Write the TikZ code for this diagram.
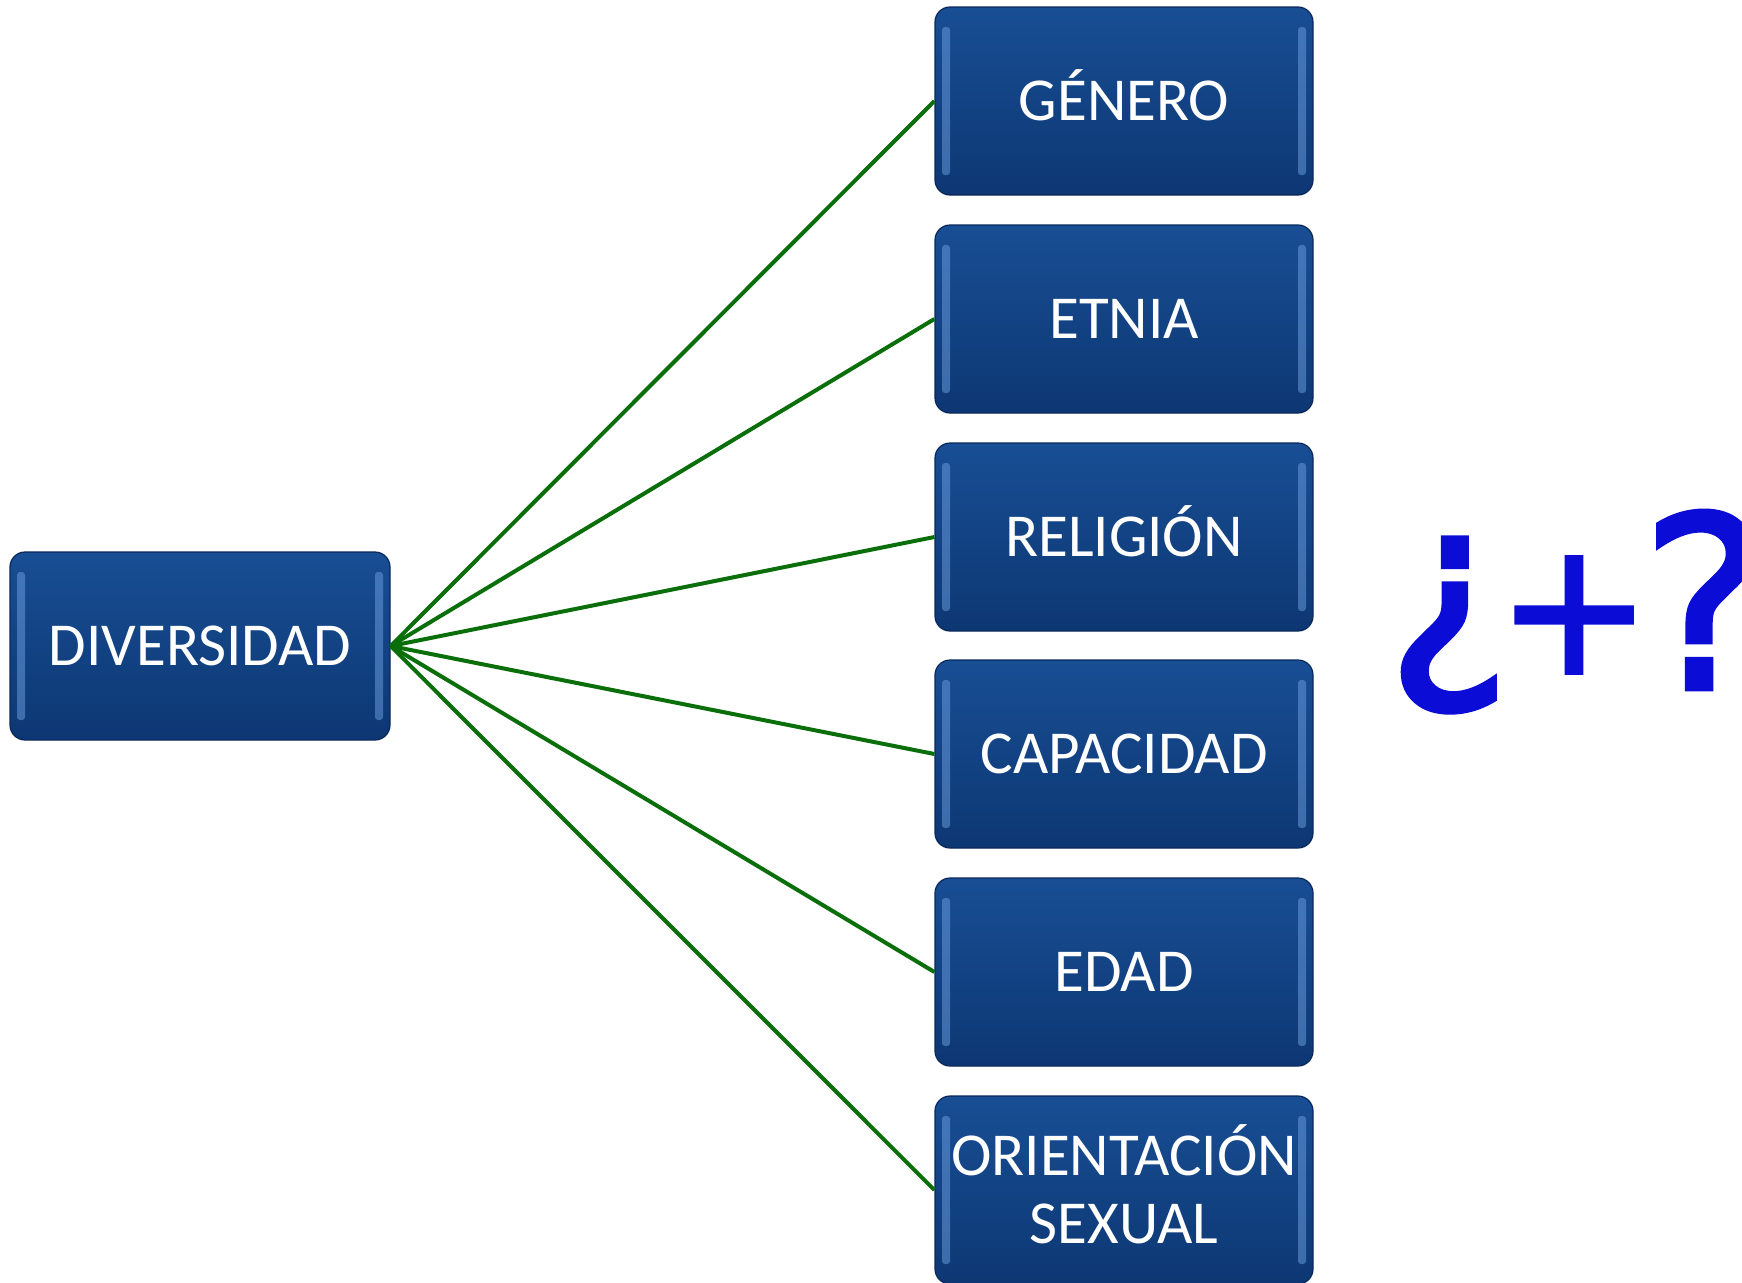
\documentclass[tikz,border=0pt]{standalone}
\usepackage{fontspec}
\setmainfont{Carlito}
\newfontfamily\symfont[FakeBold=2]{DejaVu Sans}
\usetikzlibrary{shadings}
\definecolor{boxtop}{RGB}{24,78,148}
\definecolor{boxbot}{RGB}{13,55,115}
\definecolor{boxedge}{RGB}{10,40,90}
\definecolor{boxhi}{RGB}{110,160,225}
\definecolor{linkgreen}{RGB}{10,110,10}
\definecolor{qblue}{RGB}{12,12,215}
\tikzset{
  catbox/.style={rounded corners=15pt, top color=boxtop, bottom color=boxbot,
    draw=boxedge, line width=1.2pt, minimum width=378pt, minimum height=188pt,
    text=white, align=center, inner sep=0pt, text height=39pt, text depth=0pt,
    font=\fontsize{61}{68}\selectfont,
    path picture={
      \fill[boxhi, opacity=0.5, rounded corners=3pt]
        ([xshift=7pt,yshift=-20pt]path picture bounding box.north west) rectangle
        ([xshift=15pt,yshift=20pt]path picture bounding box.south west);
      \fill[boxhi, opacity=0.5, rounded corners=3pt]
        ([xshift=-15pt,yshift=-20pt]path picture bounding box.north east) rectangle
        ([xshift=-7pt,yshift=20pt]path picture bounding box.south east);
    }},
  link/.style={linkgreen, line width=4pt},
  qmark/.style={text=qblue, inner sep=0pt, font=\symfont}
}
\begin{document}
\begin{tikzpicture}[x=1pt,y=-1pt]
\useasboundingbox (0,0) rectangle (1742,1282);
\node[catbox, minimum width=380pt] (div) at (200,646) {DIVERSIDAD};
\node[catbox] (gen) at (1124,101) {GÉNERO};
\node[catbox] (etn) at (1124,319) {ETNIA};
\node[catbox] (rel) at (1124,537) {RELIGIÓN};
\node[catbox] (cap) at (1124,754) {CAPACIDAD};
\node[catbox] (eda) at (1124,972) {EDAD};
\node[catbox, text height=107pt, text depth=0pt] (ori) at (1124,1190) {ORIENTACIÓN\\SEXUAL};
\foreach \t in {gen,etn,rel,cap,eda,ori}
  \draw[link] (div.east) -- (\t.west);
\node[qmark, font=\symfont\fontsize{235}{235}\selectfont] (q1) at (1449,625) {¿};
\node[qmark, font=\symfont\fontsize{185}{185}\selectfont] (q2) at (1574,615) {+};
\node[qmark, font=\symfont\fontsize{240}{240}\selectfont] (q3) at (1705,600) {?};
\end{tikzpicture}
\end{document}
